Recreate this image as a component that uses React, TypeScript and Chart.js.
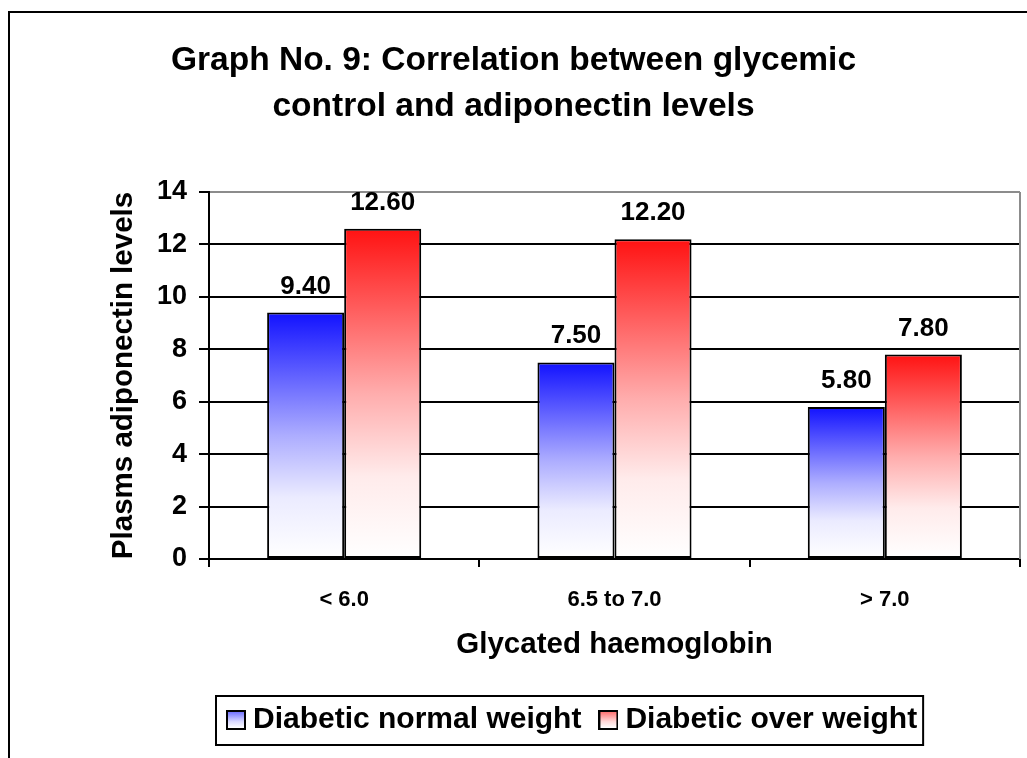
import React, { useEffect, useRef } from 'react';
import { Chart, registerables } from 'chart.js';

Chart.register(...registerables);

const categories = ['< 6.0', '6.5 to 7.0', '> 7.0'];
const normalWeight = [9.4, 7.5, 5.8];
const overWeight = [12.6, 12.2, 7.8];
const seriesNames = ['Diabetic normal weight', 'Diabetic over weight'];
const titleLines = ['Graph No. 9: Correlation between glycemic', 'control and adiponectin levels'];
const yAxisTitle = 'Plasms adiponectin levels';
const xAxisTitle = 'Glycated haemoglobin';
const yMin = 0;
const yMax = 14;
const yStep = 2;

const FONT = '"Liberation Sans", Arial, Helvetica, sans-serif';
type RGB = [number, number, number];
const BLUE: RGB = [0, 0, 255];
const RED: RGB = [255, 0, 0];

const mix = (c: RGB, t: number) => {
  const f = (v: number) => Math.round(v + (255 - v) * t);
  return `rgb(${f(c[0])},${f(c[1])},${f(c[2])})`;
};

const addStops = (g: CanvasGradient, c: RGB) => {
  g.addColorStop(0, mix(c, 0.07));
  g.addColorStop(0.5, mix(c, 0.68));
  g.addColorStop(0.75, mix(c, 0.92));
  g.addColorStop(1, mix(c, 1));
};

export default function App() {
  const ref = useRef<HTMLCanvasElement>(null);

  useEffect(() => {
    const canvas = ref.current as HTMLCanvasElement;

    const makeIcon = (c: RGB) => {
      const cv = document.createElement('canvas');
      cv.width = 20;
      cv.height = 20;
      const x = cv.getContext('2d') as CanvasRenderingContext2D;
      const g = x.createLinearGradient(0, 2, 0, 18);
      g.addColorStop(0, mix(c, 0.45));
      g.addColorStop(0.6, mix(c, 0.85));
      g.addColorStop(1, mix(c, 1));
      x.fillStyle = g;
      x.fillRect(1, 1, 18, 18);
      x.strokeStyle = '#000';
      x.lineWidth = 2;
      x.strokeRect(1, 1, 18, 18);
      return cv;
    };
    const icons = [makeIcon(BLUE), makeIcon(RED)];

    const barFill = (c: RGB) => (ctx: any) => {
      const chart = ctx.chart;
      const y = chart.scales && chart.scales.y;
      if (!chart.chartArea || !y || ctx.type !== 'data') return mix(c, 0.5);
      const top = y.getPixelForValue(ctx.raw);
      const base = y.getPixelForValue(0);
      const g = chart.ctx.createLinearGradient(0, top, 0, base);
      addStops(g, c);
      return g;
    };

    const extras = {
      id: 'extras',
      beforeDatasetsDraw(chart: any) {
        const { ctx, chartArea } = chart;
        ctx.save();
        ctx.strokeStyle = '#8c8c8c';
        ctx.lineWidth = 2;
        ctx.beginPath();
        ctx.moveTo(chartArea.right, chartArea.top);
        ctx.lineTo(chartArea.right, chartArea.bottom);
        ctx.stroke();
        ctx.restore();
      },
      afterDraw(chart: any) {
        const { ctx } = chart;
        ctx.save();
        ctx.font = `bold 26px ${FONT}`;
        ctx.fillStyle = '#000';
        ctx.textAlign = 'center';
        ctx.textBaseline = 'alphabetic';
        chart.data.datasets.forEach((ds: any, di: number) => {
          const meta = chart.getDatasetMeta(di);
          meta.data.forEach((el: any, i: number) => {
            ctx.fillText(Number(ds.data[i]).toFixed(2), el.x, el.y - 19);
          });
        });
        const lg = chart.legend;
        const hb = lg.legendHitBoxes;
        if (hb && hb.length) {
          const last = hb[hb.length - 1];
          const l = hb[0].left - 18;
          const r = last.left + last.width + 6;
          const t = lg.top + 16;
          const b = lg.bottom;
          ctx.strokeStyle = '#000';
          ctx.lineWidth = 2;
          ctx.strokeRect(l, t, r - l, b - t);
        }
        ctx.restore();
      },
    };

    const chart = new Chart(canvas, {
      type: 'bar',
      data: {
        labels: categories,
        datasets: [
          {
            label: seriesNames[0],
            data: normalWeight,
            backgroundColor: barFill(BLUE),
            borderColor: '#000',
            borderWidth: 2,
            borderSkipped: false,
          },
          {
            label: seriesNames[1],
            data: overWeight,
            backgroundColor: barFill(RED),
            borderColor: '#000',
            borderWidth: 2,
            borderSkipped: false,
          },
        ],
      },
      options: {
        responsive: false,
        maintainAspectRatio: false,
        animation: false,
        categoryPercentage: 0.57,
        barPercentage: 1,
        layout: { padding: { top: 0, left: 7, right: 7, bottom: 13 } },
        plugins: {
          tooltip: { enabled: false },
          title: {
            display: true,
            text: titleLines,
            color: '#000',
            font: { family: FONT, size: 33.5, weight: 'bold', lineHeight: 1.373 },
            padding: { top: 38, bottom: 62 },
          },
          legend: {
            display: true,
            position: 'bottom',
            fullSize: false,
            align: 'start',
            labels: {
              usePointStyle: true,
              boxWidth: 4,
              boxHeight: 20,
              pointStyleWidth: 4,
              padding: 25,
              color: '#000',
              font: { family: FONT, size: 30, weight: 'bold' },
              generateLabels: (ch: any) =>
                ch.data.datasets.map((ds: any, i: number) => ({
                  text: ds.label,
                  pointStyle: icons[i],
                  fillStyle: 'rgba(0,0,0,0)',
                  strokeStyle: 'rgba(0,0,0,0)',
                  lineWidth: 0,
                  hidden: false,
                  datasetIndex: i,
                  fontColor: '#000',
                })),
            },
          },
        },
        scales: {
          x: {
            offset: true,
            ticks: { color: '#000', font: { family: FONT, size: 22, weight: 'bold' }, padding: 20 },
            grid: { offset: true, drawOnChartArea: false, drawTicks: true, tickLength: 8, color: '#000', lineWidth: 2 },
            border: { display: true, color: '#000', width: 2 },
            title: {
              display: true,
              text: xAxisTitle,
              color: '#000',
              font: { family: FONT, size: 29.5, weight: 'bold' },
              padding: { top: 0, bottom: 17 },
            },
            afterFit: (s: any) => {
              s.height = 121;
            },
          },
          y: {
            min: yMin,
            max: yMax,
            ticks: { stepSize: yStep, color: '#000', font: { family: FONT, size: 27, weight: 'bold' }, padding: 12 },
            grid: {
              color: (c: any) => (c.tick && c.tick.value === yMax ? '#8c8c8c' : '#000'),
              tickColor: '#000',
              lineWidth: 2,
              tickLength: 10,
              drawTicks: true,
            },
            border: { display: true, color: '#000', width: 2 },
            title: {
              display: true,
              text: yAxisTitle,
              color: '#000',
              font: { family: FONT, size: 29.5, weight: 'bold' },
              padding: { top: 99, bottom: 0 },
            },
            afterFit: (s: any) => {
              s.width = 202;
            },
          },
        },
      } as any,
      plugins: [extras],
    });

    return () => chart.destroy();
  }, []);

  return (
    <div style={{ position: 'fixed', left: 0, top: 0, width: 1027, height: 758, overflow: 'hidden', background: '#fff' }}>
      <div
        style={{
          position: 'absolute',
          left: 8,
          top: 11,
          width: 1100,
          height: 900,
          border: '2px solid #000',
          boxSizing: 'border-box',
        }}
      />
      <canvas
        ref={ref}
        width={1027}
        height={758}
        style={{ position: 'absolute', left: 0, top: 0, width: 1027, height: 758 }}
      />
    </div>
  );
}
